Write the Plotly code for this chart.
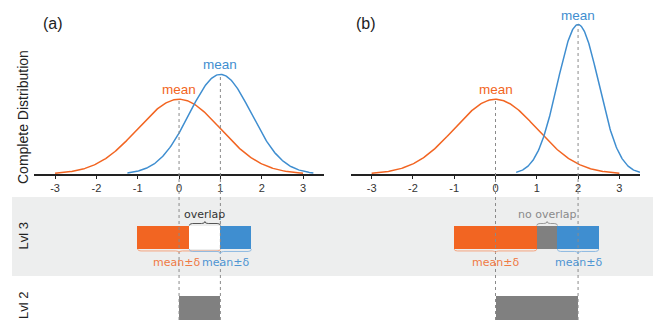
import numpy as np
import plotly.graph_objects as go

# ---- data ----
panels = ["(a)", "(b)"]
orange_mean = [0.0, 0.0]
orange_sd = [1.0, 1.0]
blue_mean = [1.0, 2.0]
blue_sd = [0.75, 0.5]
orange_delta = [1.0, 1.0]
blue_delta = [0.75, 0.5]
tick_vals = [-3, -2, -1, 0, 1, 2, 3]
tick_text = ["-3", "-2", "-1", "0", "1", "2", "3"]
mean_label = "mean"
interval_label = "mean±δ"
overlap_labels = ["overlap", "no overlap"]
level_labels = ["Lvl 3", "Lvl 2"]
y_title = "Complete Distribution"

ORANGE = "#F26522"
BLUE = "#3F8ED0"
GRAY = "#808080"
BAND = "#EDEEEE"
TXT = "#333333"
FONT = "Liberation Sans, Arial, sans-serif"
FONT2 = "DejaVu Sans, Verdana, sans-serif"

W, H = 653, 320
def px(p):  # horizontal pixel -> paper
    return p / W
def py(p):  # vertical pixel -> paper
    return 1 - p / H

xdom = [[px(34.4), px(323.7)], [px(351), px(640)]]
top_dom = [py(174), 1.0]
yr_top = 174 / 187.3
low_dom = [0.0, py(192)]

fig = go.Figure()

def pdf(x, m, s):
    return np.exp(-0.5 * ((x - m) / s) ** 2) / (s * np.sqrt(2 * np.pi))

def peak_paper(m, s):
    return top_dom[0] + pdf(m, m, s) / yr_top * (top_dom[1] - top_dom[0])

shapes = []
annotations = []

# grey band for level 3
shapes.append(dict(type="rect", xref="paper", yref="paper", x0=px(12), x1=1.0,
                   y0=py(276), y1=py(197), fillcolor=BAND, line=dict(width=0), layer="below"))

def brace(x0, x1, yb, depth, xref, yref, color, tip_dir):
    # tip_dir = +1 -> tip pointing down (pixel y increasing), -1 -> up
    e = min(0.08, (x1 - x0) / 6)
    m = (x0 + x1) / 2
    y1 = yb + tip_dir * depth * 0.5
    y2 = yb + tip_dir * depth
    path = (f"M {x0},{yb} Q {x0},{y1} {x0+e},{y1} L {m-e},{y1} Q {m},{y1} {m},{y2} "
            f"Q {m},{y1} {m+e},{y1} L {x1-e},{y1} Q {x1},{y1} {x1},{yb}")
    return dict(type="path", path=path, xref=xref, yref=yref,
                line=dict(color=color, width=1), layer="above")

for i in range(2):
    xa = "x" if i == 0 else "x2"
    ya = "y" if i == 0 else "y2"
    xl = "x3" if i == 0 else "x4"
    yl = "y3" if i == 0 else "y4"
    om, osd, bm, bsd = orange_mean[i], orange_sd[i], blue_mean[i], blue_sd[i]

    xo = np.linspace(om - 3 * osd, om + 3 * osd, 241)
    xb = np.linspace(bm - 3 * bsd, bm + 3 * bsd, 241)
    fig.add_trace(go.Scatter(x=xo, y=pdf(xo, om, osd), mode="lines",
                             line=dict(color=ORANGE, width=1.5), xaxis=xa, yaxis=ya,
                             showlegend=False, hoverinfo="skip"))
    fig.add_trace(go.Scatter(x=xb, y=pdf(xb, bm, bsd), mode="lines",
                             line=dict(color=BLUE, width=1.5), xaxis=xa, yaxis=ya,
                             showlegend=False, hoverinfo="skip"))

    # mean labels
    for m, s, c in [(om, osd, ORANGE), (bm, bsd, BLUE)]:
        annotations.append(dict(x=m, y=pdf(m, m, s), xref=xa, yref=ya, text=mean_label,
                                showarrow=False, xanchor="center", yanchor="bottom", yshift=0,
                                font=dict(family=FONT, size=13.5, color=c)))
        shapes.append(dict(type="line", xref=xa, yref="paper", x0=m, x1=m, y0=0,
                           y1=peak_paper(m, s), line=dict(color="#8a8a8a", width=1, dash="3px,3px"),
                           layer="above"))

    # level 3 intervals
    o_lo, o_hi = om - orange_delta[i], om + orange_delta[i]
    b_lo, b_hi = bm - blue_delta[i], bm + blue_delta[i]
    ymid, bw = 237.4, 23.3
    if b_lo < o_hi:  # overlap
        segs = [(o_lo, b_lo, ORANGE), (b_lo, o_hi, "#FFFFFF"), (o_hi, b_hi, BLUE)]
        gap = (b_lo, o_hi)
        gcol, gtxt = "#555555", overlap_labels[0]
        tcol = TXT
    else:
        segs = [(o_lo, o_hi, ORANGE), (o_hi, b_lo, GRAY), (b_lo, b_hi, BLUE)]
        gap = (o_hi, b_lo)
        gcol, gtxt = "#999999", overlap_labels[1]
        tcol = "#8a8a8a"
    for a, b, c in segs:
        fig.add_trace(go.Bar(y=[ymid], x=[b - a], base=[a], orientation="h", width=bw,
                             marker=dict(color=c, line=dict(width=0)), xaxis=xl, yaxis=yl,
                             showlegend=False, hoverinfo="skip"))
    # level 2 bar (between means)
    fig.add_trace(go.Bar(y=[310], x=[bm - om], base=[om], orientation="h", width=28,
                         marker=dict(color=GRAY, line=dict(width=0)), xaxis=xl, yaxis=yl,
                         showlegend=False, hoverinfo="skip"))

    # braces
    shapes.append(brace(o_lo, o_hi, 249.2, 3.5, xl, yl, "#F5A47F", 1))
    shapes.append(brace(b_lo, b_hi, 249.2, 4.5, xl, yl, "#8DB9E2", 1))
    shapes.append(brace(gap[0], gap[1], 225.5, 4, xl, yl, gcol, -1))
    annotations.append(dict(x=(gap[0] + gap[1]) / 2, y=214, xref=xl, yref=yl, text=gtxt,
                            xanchor="center", yanchor="middle",
                            showarrow=False, font=dict(family=FONT2, size=11, color=tcol)))
    shifts = [(-3, 5), (0, 0)][i]
    annotations.append(dict(x=om, y=262, xref=xl, yref=yl, text=interval_label, xshift=shifts[0],
                            xanchor="center", yanchor="middle",
                            showarrow=False, font=dict(family=FONT2, size=11, color="#F07A45")))
    annotations.append(dict(x=bm, y=262, xref=xl, yref=yl, text=interval_label, xshift=shifts[1],
                            xanchor="center", yanchor="middle",
                            showarrow=False, font=dict(family=FONT2, size=11, color="#4D95D3")))

    # panel label
    annotations.append(dict(x=px([53, 366][i]), y=py(23), xref="paper", yref="paper",
                            text=panels[i], showarrow=False, xanchor="center", yanchor="middle",
                            font=dict(family=FONT, size=16, color="#222222")))

# axis titles / level labels
for txt, ypx, sz in [(y_title, 117, 14), (level_labels[0], 236.5, 13), (level_labels[1], 306, 13)]:
    annotations.append(dict(x=px(23), y=py(ypx), xref="paper", yref="paper", text=txt,
                            textangle=-90, showarrow=False, xanchor="center", yanchor="middle",
                            font=dict(family=FONT, size=sz, color="#222222")))

xcommon = dict(range=[-3.5, 3.5], showgrid=False, zeroline=False, showline=True,
               linecolor="#222222", linewidth=1.5, ticks="outside", ticklen=3, tickwidth=1,
               tickcolor="#222222", tickvals=tick_vals, ticktext=tick_text,
               tickfont=dict(family=FONT, size=11, color=TXT), fixedrange=True)
ycommon = dict(range=[0, yr_top], domain=top_dom, visible=False, fixedrange=True)
lowx = dict(range=[-3.5, 3.5], visible=False, fixedrange=True)
lowy = dict(range=[320, 192], domain=low_dom, visible=False, fixedrange=True)

fig.update_layout(
    width=W, height=H, margin=dict(l=0, r=0, t=0, b=0),
    paper_bgcolor="white", plot_bgcolor="rgba(0,0,0,0)",
    barmode="overlay", bargap=0,
    xaxis=dict(domain=xdom[0], anchor="y", **xcommon),
    yaxis=dict(anchor="x", **ycommon),
    xaxis2=dict(domain=xdom[1], anchor="y2", **xcommon),
    yaxis2=dict(anchor="x2", **ycommon),
    xaxis3=dict(domain=xdom[0], anchor="y3", **lowx),
    yaxis3=dict(anchor="x3", **lowy),
    xaxis4=dict(domain=xdom[1], anchor="y4", **lowx),
    yaxis4=dict(anchor="x4", **lowy),
    shapes=shapes, annotations=annotations, showlegend=False,
)

fig.write_html("out.html")
